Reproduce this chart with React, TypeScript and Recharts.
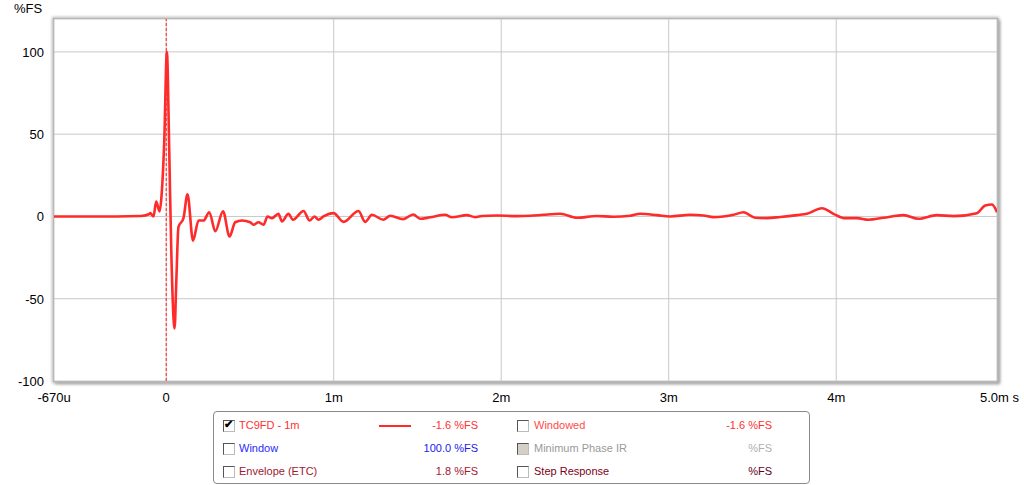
import { LineChart, Line, XAxis, YAxis, CartesianGrid, ReferenceLine } from "recharts";

// time in ms, level in %FS
const timeMs = [
  -0.67, -0.3, -0.15, -0.1, -0.096, -0.076, -0.06, -0.04, -0.03, -0.012, 0.004, 0.018, 0.03, 0.05, 0.06,
  0.073, 0.103, 0.127, 0.16, 0.193, 0.223, 0.257, 0.293, 0.339, 0.378, 0.412, 0.452, 0.501, 0.521, 0.551,
  0.581, 0.605, 0.631, 0.67, 0.691, 0.73, 0.756, 0.82, 0.856, 0.885, 0.909, 0.939, 0.999, 1.059, 1.148,
  1.188, 1.228, 1.296, 1.337, 1.415, 1.475, 1.516, 1.576, 1.666, 1.706, 1.795, 1.845, 1.885, 1.974, 2.094,
  2.173, 2.251, 2.352, 2.452, 2.571, 2.669, 2.77, 2.83, 2.93, 3.009, 3.128, 3.208, 3.268, 3.327, 3.387,
  3.447, 3.516, 3.586, 3.666, 3.765, 3.825, 3.915, 3.984, 4.044, 4.124, 4.193, 4.282, 4.402, 4.491, 4.601,
  4.7, 4.84, 4.89, 4.93, 4.96,
];
const level = [
  0, 0, 0.3, 1.5, 2, 0, 9, 3, 10, 45, 100, 40, -20, -68, -40,
  -6.5, -1, 13.5, -14.7, -2.5, -2.5, 2.6, -9, 3.2, -12.2, -3.5, -2.5, -3.5, -5, -3.5,
  -5, 0, -1, 1.6, -3, 1.6, -2, 3.3, -2.5, 0, -2, 0, 2, -3.3, 3.3,
  -3.3, 1, -2, 0.4, -1.6, 1.2, -1.4, -0.5, 1, -0.5, 0.8, -0.4, 0.3, 0.6, 0.2,
  0.4, 1, 1.6, -0.8, 0.3, -0.2, 0.4, 1.6, 0.8, 0, 1, 0.6, -0.4, 0, 1,
  2.6, -0.8, -1, -0.3, 0.8, 1.6, 5, 1.6, -1, -1, -2, -0.8, 0.8, -1.4, 0.8,
  0.2, 2, 6.7, 7.3, 2.6,
];

const xTicks = [-0.67, 0, 1, 2, 3, 4, 4.96];
const xTickLabels = ["-670u", "0", "1m", "2m", "3m", "4m", "5.0m s"];
const yTicks = [-100, -50, 0, 50, 100];

const legendRows = [
  { checked: true, label: "TC9FD - 1m", color: "#ff3030", value: "-1.6 %FS", valueColor: "#ff3030", line: true,
    label2: "Windowed", color2: "#ff4a4a", value2: "-1.6 %FS", valueColor2: "#ff3030", disabled2: false },
  { checked: false, label: "Window", color: "#2a2aff", value: "100.0 %FS", valueColor: "#1a1aee", line: false,
    label2: "Minimum Phase IR", color2: "#9a9a9a", value2: "%FS", valueColor2: "#b0b0b0", disabled2: true },
  { checked: false, label: "Envelope (ETC)", color: "#a01830", value: "1.8 %FS", valueColor: "#a01830", line: false,
    label2: "Step Response", color2: "#800020", value2: "%FS", valueColor2: "#600020", disabled2: false },
];

const data = timeMs.map((t, i) => ({ t, v: level[i] }));

function XTick(props: any) {
  const { x, y, payload } = props;
  const i = xTicks.indexOf(payload.value);
  const last = i === xTicks.length - 1;
  return (
    <text x={last ? x + 22 : x} y={y + 13} textAnchor={last ? "end" : "middle"} fontSize={13} fill="#000"
      fontFamily="Liberation Sans, Arial, sans-serif">
      {xTickLabels[i]}
    </text>
  );
}

function YTick(props: any) {
  const { x, y, payload } = props;
  return (
    <text x={x - 2} y={y + 5} textAnchor="end" fontSize={13} fill="#000" fontFamily="Liberation Sans, Arial, sans-serif">
      {payload.value}
    </text>
  );
}

function Box({ checked, disabled }: { checked: boolean; disabled?: boolean }) {
  return (
    <div style={{
      width: 10, height: 10, border: "1px solid #555", borderRightColor: "#bbb", borderBottomColor: "#bbb",
      background: disabled ? "#d4d0c8" : "#fff", position: "relative", flex: "none",
    }}>
      {checked && (
        <span style={{ position: "absolute", left: 0, top: -3, fontSize: 11, fontWeight: 700, color: "#000" }}>✔</span>
      )}
    </div>
  );
}

export default function App() {
  return (
    <div style={{ position: "absolute", left: 0, top: 0, width: 1024, height: 485, background: "#fff",
      fontFamily: "Liberation Sans, Arial, sans-serif" }}>
      <div style={{ position: "absolute", left: 14, top: 1, fontSize: 13, color: "#000" }}>%FS</div>
      <div style={{ position: "absolute", left: 53, top: 18, width: 943, height: 362, border: "1px solid #a8a8a8",
        boxShadow: "0 0 3px 1px #b8b8b8, 2px 2px 3px #999" }} />
      <div style={{ position: "absolute", left: 0, top: 0 }}>
        <LineChart width={1024} height={420} data={data} margin={{ top: 19, right: 27, left: 0, bottom: 20 }}>
          <CartesianGrid stroke="#c8c8c8" strokeWidth={1} />
          <XAxis dataKey="t" type="number" domain={[-0.67, 4.96]} ticks={xTicks} tick={<XTick />}
            axisLine={false} tickLine={false} height={19} interval={0} allowDataOverflow />
          <YAxis type="number" domain={[-100, 120]} ticks={yTicks} tick={<YTick />} axisLine={false}
            tickLine={false} width={54} interval={0} allowDataOverflow />
          <ReferenceLine x={0} stroke="#ff2020" strokeDasharray="3 2" strokeWidth={1} />
          <Line dataKey="v" type="monotone" stroke="#ff2a2a" strokeWidth={2.6} dot={false}
            isAnimationActive={false} />
        </LineChart>
      </div>
      <div style={{ position: "absolute", left: 213, top: 411, width: 595, height: 71, border: "1px solid #8a8a8a",
        borderRadius: 4, fontSize: 11, background: "#fff" }}>
        {legendRows.map((r, i) => (
          <div key={i} style={{ position: "absolute", left: 0, top: 7 + i * 23, width: 595, height: 14 }}>
            <div style={{ position: "absolute", left: 9, top: 1 }}><Box checked={r.checked} /></div>
            <div style={{ position: "absolute", left: 25, top: 0, color: r.color }}>{r.label}</div>
            {r.line && <div style={{ position: "absolute", left: 165, top: 6, width: 32, height: 2, background: "#ff2a2a" }} />}
            <div style={{ position: "absolute", right: 331, top: 0, color: r.valueColor, textAlign: "right" }}>{r.value}</div>
            <div style={{ position: "absolute", left: 303, top: 1 }}><Box checked={false} disabled={r.disabled2} /></div>
            <div style={{ position: "absolute", left: 320, top: 0, color: r.color2 }}>{r.label2}</div>
            <div style={{ position: "absolute", right: 37, top: 0, color: r.valueColor2, textAlign: "right" }}>{r.value2}</div>
          </div>
        ))}
      </div>
    </div>
  );
}
